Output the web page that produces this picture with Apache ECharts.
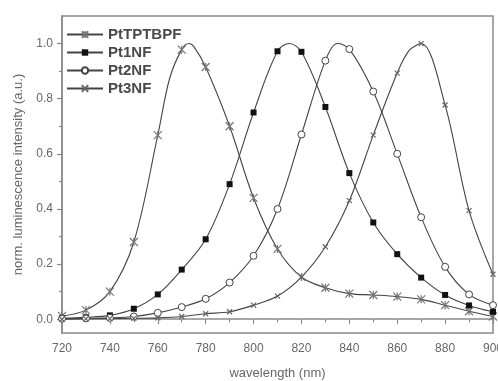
<!DOCTYPE html>
<html>
<head>
<meta charset="utf-8">
<script src="https://cdn.jsdelivr.net/npm/echarts@6/dist/echarts.min.js"></script>
<style>
  html, body { margin: 0; padding: 0; background: #fff; }
  #chart { width: 498px; height: 381px; }
</style>
</head>
<body>
<div id="chart"></div>
<script>
// wavelength (nm) and normalised intensity
const wlPtTPTBPF = [720, 730, 740, 750, 760, 765, 770, 773, 775, 780, 790, 800, 810, 820, 830, 840, 850, 860, 870, 880, 890, 900];
const yPtTPTBPF = [0.012, 0.033, 0.10, 0.28, 0.668, 0.875, 0.978, 1.0, 0.99, 0.915, 0.70, 0.44, 0.255, 0.153, 0.114, 0.093, 0.088, 0.082, 0.072, 0.051, 0.029, 0.010];

const wlPt1NF = [720, 730, 740, 750, 760, 770, 780, 790, 800, 810, 815, 820, 830, 840, 850, 860, 870, 880, 890, 900];
const yPt1NF = [0.004, 0.007, 0.014, 0.038, 0.09, 0.18, 0.29, 0.49, 0.75, 0.972, 1.0, 0.97, 0.77, 0.53, 0.351, 0.236, 0.151, 0.088, 0.05, 0.027];

const wlPt2NF = [720, 730, 740, 750, 760, 770, 780, 790, 800, 810, 820, 830, 835, 840, 850, 860, 870, 880, 890, 900];
const yPt2NF = [0.002, 0.003, 0.005, 0.01, 0.023, 0.044, 0.074, 0.133, 0.23, 0.40, 0.67, 0.938, 1.0, 0.98, 0.826, 0.60, 0.37, 0.19, 0.09, 0.051];

const wlPt3NF = [720, 730, 740, 750, 760, 770, 780, 790, 800, 810, 820, 830, 840, 850, 860, 865, 870, 880, 890, 900];
const yPt3NF = [0.0, 0.001, 0.002, 0.003, 0.005, 0.01, 0.02, 0.027, 0.051, 0.084, 0.153, 0.263, 0.43, 0.668, 0.893, 0.975, 1.0, 0.777, 0.394, 0.163];

const yMajorTicks = [0, 0.2, 0.4, 0.6, 0.8, 1.0];
const yMinorTicks = [0.1, 0.3, 0.5, 0.7, 0.9];

const LINE = "#444";
const AXIS = "#8a8a8a";
const TEXT = "#666";

const asterisk = "path://M0,0L10,10M10,0L0,10M5,0L5,10";
const cross = "path://M0,0L10,10M10,0L0,10";

// markers only at every 10 nm, extra peak points are line-only
function toData(xs, ys) {
  return xs.map((x, i) => x % 10 === 0 ? [x, ys[i]] : { value: [x, ys[i]], symbol: "none" });
}

function makeSeries(name, xs, ys, symbol, size, itemStyle) {
  return {
    name: name,
    type: "line",
    data: toData(xs, ys),
    smooth: 0.35,
    symbol: symbol,
    symbolSize: size,
    showAllSymbol: true,
    lineStyle: { color: LINE, width: 1.1 },
    itemStyle: itemStyle,
    z: 3,
  };
}

const chart = echarts.init(document.getElementById("chart"), null, { renderer: "canvas" });

chart.setOption({
  animation: false,
  backgroundColor: "#fff",
  textStyle: { fontFamily: "Liberation Sans, Arial, sans-serif" },
  grid: {
    left: 62, right: 5, top: 16, bottom: 48,
    outerBoundsMode: "none",
    show: true, borderColor: AXIS, borderWidth: 1.5, backgroundColor: "transparent",
  },
  legend: {
    orient: "vertical",
    left: 61,
    top: 22,
    itemWidth: 36,
    itemHeight: 8,
    itemGap: 3,
    textStyle: { color: "#4a4a4a", fontSize: 15, fontWeight: "bold", fontFamily: "Liberation Sans, Arial, sans-serif" },
    data: ["PtTPTBPF", "Pt1NF", "Pt2NF", "Pt3NF"],
  },
  xAxis: {
    type: "value",
    min: 720,
    max: 900,
    interval: 20,
    name: "wavelength (nm)",
    nameLocation: "middle",
    nameGap: 34,
    nameTextStyle: { color: TEXT, fontSize: 13 },
    axisLine: { show: true, lineStyle: { color: AXIS, width: 1.5 } },
    axisTick: { show: true, length: 5, lineStyle: { color: AXIS, width: 1.2 } },
    minorTick: { show: true, splitNumber: 2, length: 3, lineStyle: { color: AXIS, width: 1.2 } },
    axisLabel: { color: TEXT, fontSize: 12, margin: 10 },
    splitLine: { show: false },
  },
  yAxis: [
    {
      type: "value",
      min: -0.05,
      max: 1.1,
      name: "norm. luminescence intensity (a.u.)",
      nameLocation: "middle",
      nameGap: 37,
      nameTextStyle: { color: TEXT, fontSize: 13 },
      axisLine: { show: true, lineStyle: { color: AXIS, width: 1.5 } },
      axisTick: { show: true, length: 5, customValues: yMajorTicks, lineStyle: { color: AXIS, width: 1.2 } },
      axisLabel: { color: TEXT, fontSize: 12, margin: 9, customValues: yMajorTicks, formatter: (v) => v.toFixed(1) },
      splitLine: { show: false },
    },
    {
      type: "value",
      min: -0.05,
      max: 1.1,
      position: "left",
      axisLine: { show: false },
      axisTick: { show: true, length: 3, customValues: yMinorTicks, lineStyle: { color: AXIS, width: 1.2 } },
      axisLabel: { show: false },
      splitLine: { show: false },
    },
  ],
  series: [
    makeSeries("PtTPTBPF", wlPtTPTBPF, yPtTPTBPF, asterisk, 8, { color: "transparent", borderColor: "#777", borderWidth: 1.2 }),
    makeSeries("Pt1NF", wlPt1NF, yPt1NF, "rect", 6, { color: "#111", borderColor: "#111", borderWidth: 0 }),
    makeSeries("Pt2NF", wlPt2NF, yPt2NF, "circle", 7, { color: "#fff", borderColor: "#444", borderWidth: 1 }),
    makeSeries("Pt3NF", wlPt3NF, yPt3NF, cross, 5, { color: "transparent", borderColor: "#666", borderWidth: 1.2 }),
  ],
});
</script>
</body>
</html>
